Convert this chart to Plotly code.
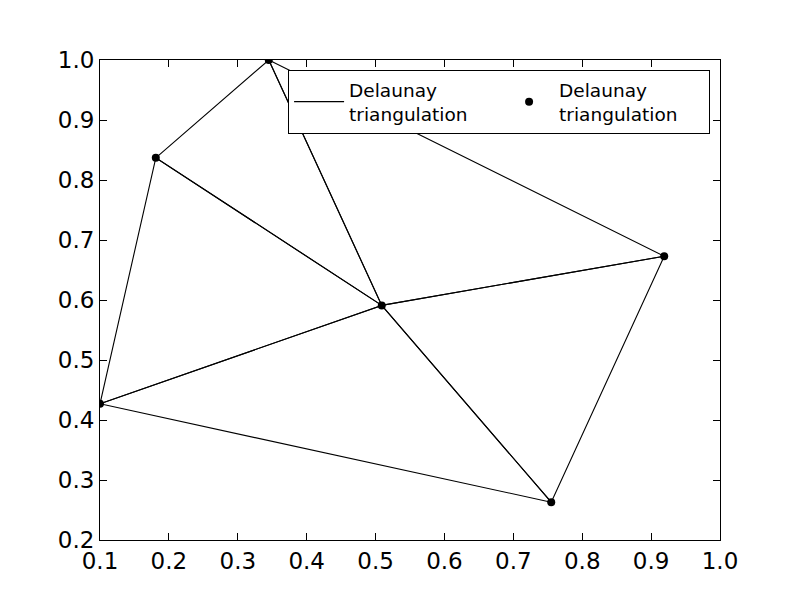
import plotly.graph_objects as go

# Points of the triangulation
x_pts = [0.100, 0.181, 0.345, 0.509, 0.919, 0.755]
y_pts = [0.427, 0.837, 1.000, 0.591, 0.673, 0.263]
# Triangles (vertex indices)
triangles = [(0, 1, 3), (1, 2, 3), (2, 3, 4), (3, 4, 5), (0, 3, 5)]
label = "Delaunay<br>triangulation"
tick_vals = [0.1, 0.2, 0.3, 0.4, 0.5, 0.6, 0.7, 0.8, 0.9, 1.0]
ytick_vals = [0.2, 0.3, 0.4, 0.5, 0.6, 0.7, 0.8, 0.9, 1.0]

lx, ly = [], []
for tri in triangles:
    for k in list(tri) + [tri[0]]:
        lx.append(x_pts[k])
        ly.append(y_pts[k])
    lx.append(None)
    ly.append(None)

fig = go.Figure()
fig.add_trace(go.Scatter(x=lx, y=ly, mode="lines", line=dict(color="black", width=1.1),
                         name=label, hoverinfo="skip"))
fig.add_trace(go.Scatter(x=x_pts, y=y_pts, mode="markers",
                         marker=dict(color="black", size=8), name=label))

axis_common = dict(showgrid=False, zeroline=False, showline=True, linecolor="black",
                   linewidth=1, mirror="ticks", ticks="inside", ticklen=7,
                   tickcolor="black", tickfont=dict(family="DejaVu Sans", size=23, color="black"))
fig.update_xaxes(range=[0.1, 1.0], tickvals=tick_vals,
                 ticktext=[f"{v:.1f}" for v in tick_vals], **axis_common)
fig.update_yaxes(range=[0.2, 1.0], tickvals=ytick_vals,
                 ticktext=[f"{v:.1f}" for v in ytick_vals], **axis_common)

fig.update_layout(
    width=800, height=600,
    margin=dict(l=100, r=80, t=60, b=60),
    plot_bgcolor="white", paper_bgcolor="white",
    font=dict(family="DejaVu Sans", color="black"),
    legend=dict(orientation="h", x=0.984, y=0.979, xanchor="right", yanchor="top",
                bgcolor="white", bordercolor="black", borderwidth=1,
                font=dict(size=18.5, family="DejaVu Sans"), entrywidth=145,
                itemwidth=50),
)
fig.write_html("out.html", config={"displayModeBar": False},
               post_script="document.body.style.margin='0';")
